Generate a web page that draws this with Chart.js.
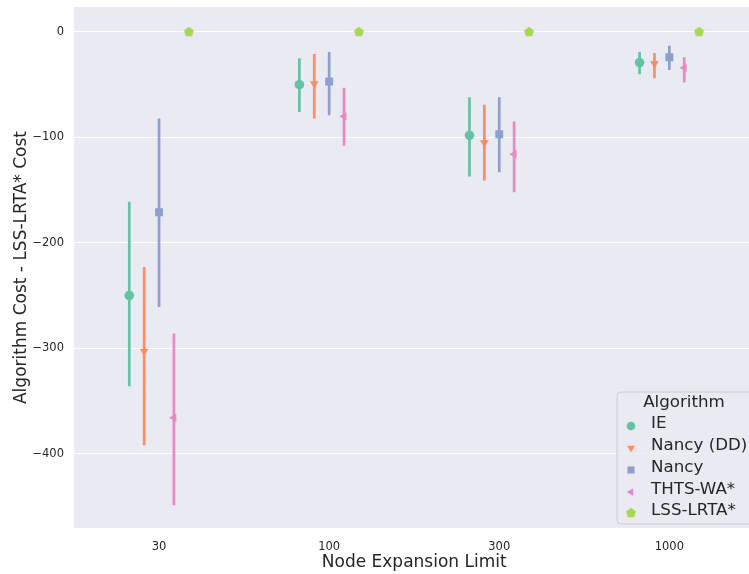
<!DOCTYPE html>
<html>
<head>
<meta charset="utf-8">
<script src="https://cdn.jsdelivr.net/npm/chart.js@4/dist/chart.umd.min.js"></script>
<style>
html,body{margin:0;padding:0;background:#fff;overflow:hidden;width:749px;height:574px;}
canvas{display:block;}
</style>
</head>
<body>
<canvas id="c" width="760" height="574"></canvas>
<script>
// ---- data ----
const xLabels = ['30', '100', '300', '1000'];
const algorithms = ['IE', 'Nancy (DD)', 'Nancy', 'THTS-WA*', 'LSS-LRTA*'];
const yTicks = [0, -100, -200, -300, -400];

const ieMean = [-250, -50, -98, -29];
const ieLow = [-336, -76, -137, -40];
const ieHigh = [-161, -25, -62, -19];

const ddMean = [-303, -49, -105, -30];
const ddLow = [-392, -82, -141, -44];
const ddHigh = [-223, -21, -69, -20];

const nancyMean = [-171, -47, -97, -24];
const nancyLow = [-261, -79, -133, -36];
const nancyHigh = [-82, -19, -62, -13];

const thtsMean = [-366, -80, -116, -34];
const thtsLow = [-449, -108, -152, -48];
const thtsHigh = [-286, -53, -85, -24];

const lssMean = [0, 0, 0, 0];

// ---- styling ----
const colors = ['#66c2a5', '#fc8d62', '#8da0cb', '#e78ac3', '#a6d854'];
const TEXT = '#262626';
const FONT = "'DejaVu Sans', sans-serif";

function pentagon(size, r, color) {
  const cv = document.createElement('canvas');
  cv.width = size; cv.height = size;
  const g = cv.getContext('2d');
  g.fillStyle = color;
  g.beginPath();
  for (let k = 0; k < 5; k++) {
    const a = -Math.PI / 2 + k * 2 * Math.PI / 5;
    const px = size / 2 + r * Math.cos(a), py = size / 2 + r * Math.sin(a);
    if (k === 0) g.moveTo(px, py); else g.lineTo(px, py);
  }
  g.closePath();
  g.fill();
  return cv;
}
const pentImg = pentagon(12, 5.2, colors[4]);

const markers = [
  {pointStyle: 'circle', radius: 4.8, rotation: 0},
  {pointStyle: 'triangle', radius: 5, rotation: 180},
  {pointStyle: 'rect', radius: 5.6, rotation: 0},
  {pointStyle: 'triangle', radius: 4.8, rotation: 270},
  {pointStyle: pentImg, radius: 5, rotation: 0}
];

const means = [ieMean, ddMean, nancyMean, thtsMean, lssMean];
const lows = [ieLow, ddLow, nancyLow, thtsLow, null];
const highs = [ieHigh, ddHigh, nancyHigh, thtsHigh, null];

const dodge = 0.35;
const nHue = algorithms.length;
function offset(s) { return -dodge / 2 + s * dodge / (nHue - 1); }

const datasets = [];
for (let s = 0; s < nHue; s++) {
  if (lows[s]) {
    const segs = [];
    xLabels.forEach((_, i) => {
      segs.push({x: i + offset(s), y: lows[s][i]});
      segs.push({x: i + offset(s), y: highs[s][i]});
      segs.push({x: i + offset(s), y: null});
    });
    datasets.push({
      type: 'line', label: algorithms[s] + ' ci', data: segs,
      borderColor: colors[s], borderWidth: 2.7, borderCapStyle: 'butt',
      pointRadius: 0, spanGaps: false, fill: false, order: 2
    });
  }
  datasets.push({
    type: 'scatter', label: algorithms[s],
    data: means[s].map((v, i) => ({x: i + offset(s), y: v})),
    backgroundColor: colors[s], borderColor: colors[s], borderWidth: 0,
    pointStyle: markers[s].pointStyle, pointRadius: markers[s].radius,
    pointRotation: markers[s].rotation, order: 1
  });
}

const bgPlugin = {
  id: 'bg',
  beforeDraw(chart) {
    const {ctx, chartArea: a} = chart;
    ctx.save();
    ctx.fillStyle = '#eaeaf2';
    ctx.fillRect(a.left, a.top, a.right - a.left, a.bottom - a.top);
    ctx.restore();
  }
};

const legendPlugin = {
  id: 'customLegend',
  afterDraw(chart) {
    const ctx = chart.ctx;
    ctx.save();
    const bx = 617, by = 392, bw = 140, bh = 132, r = 4;
    ctx.beginPath();
    ctx.moveTo(bx + r, by);
    ctx.lineTo(bx + bw - r, by);
    ctx.quadraticCurveTo(bx + bw, by, bx + bw, by + r);
    ctx.lineTo(bx + bw, by + bh - r);
    ctx.quadraticCurveTo(bx + bw, by + bh, bx + bw - r, by + bh);
    ctx.lineTo(bx + r, by + bh);
    ctx.quadraticCurveTo(bx, by + bh, bx, by + bh - r);
    ctx.lineTo(bx, by + r);
    ctx.quadraticCurveTo(bx, by, bx + r, by);
    ctx.closePath();
    ctx.fillStyle = 'rgba(234,234,242,0.8)';
    ctx.fill();
    ctx.strokeStyle = '#cccccc';
    ctx.lineWidth = 1;
    ctx.stroke();

    ctx.fillStyle = TEXT;
    ctx.font = '16.7px ' + FONT;
    ctx.textBaseline = 'middle';
    ctx.textAlign = 'center';
    ctx.fillText('Algorithm', 684, 403);
    ctx.textAlign = 'left';
    const ys = [424, 446, 468, 490, 511];
    for (let s = 0; s < nHue; s++) {
      const y = ys[s] + 2;
      ctx.fillStyle = colors[s];
      ctx.strokeStyle = colors[s];
      const m = markers[s];
      Chart.helpers.drawPoint(ctx, {
        pointStyle: m.pointStyle, radius: m.radius * 0.9, rotation: m.rotation, borderWidth: 0
      }, 631, y);
      ctx.fillStyle = TEXT;
      ctx.fillText(algorithms[s], 651, ys[s]);
    }
    ctx.restore();
  }
};

new Chart(document.getElementById('c'), {
  type: 'scatter',
  data: {datasets},
  options: {
    responsive: false,
    animation: false,
    devicePixelRatio: 1,
    layout: {padding: {top: 7, right: 0, left: 0, bottom: 0}},
    plugins: {legend: {display: false}, tooltip: {enabled: false}},
    scales: {
      x: {
        type: 'linear', min: -0.5, max: 3.5,
        afterBuildTicks: (sc) => { sc.ticks = xLabels.map((_, i) => ({value: i})); },
        afterFit: (sc) => { sc.height = 46; sc.paddingLeft = 0; sc.paddingRight = 0; },
        grid: {display: false, drawTicks: false},
        border: {display: false},
        ticks: {
          padding: 12, color: TEXT, font: {family: FONT, size: 11.5}, maxRotation: 0,
          callback: (v) => xLabels[v]
        },
        title: {display: true, text: 'Node Expansion Limit', color: TEXT,
          font: {family: FONT, size: 17}, padding: {top: 0, bottom: 1}}
      },
      y: {
        type: 'linear', min: -470.6, max: 23.7,
        afterBuildTicks: (sc) => { sc.ticks = yTicks.map(v => ({value: v})); },
        afterFit: (sc) => { sc.width = 74; sc.paddingTop = 0; sc.paddingBottom = 0; },
        grid: {color: '#ffffff', lineWidth: 1, drawTicks: false},
        border: {display: false},
        ticks: {
          padding: 10, color: TEXT, font: {family: FONT, size: 11.5},
          callback: (v) => (v < 0 ? '\u2212' + Math.abs(v) : String(v))
        },
        title: {display: true, text: 'Algorithm Cost - LSS-LRTA* Cost', color: TEXT,
          font: {family: FONT, size: 17}, padding: {top: 11, bottom: 0}}
      }
    }
  },
  plugins: [bgPlugin, legendPlugin]
});
</script>
</body>
</html>
